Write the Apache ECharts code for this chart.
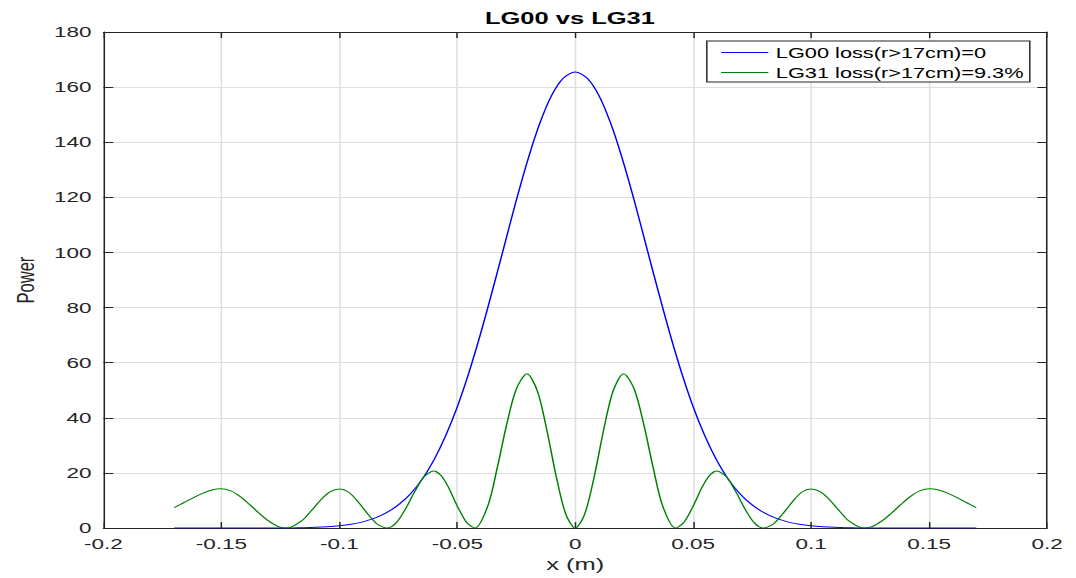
<!DOCTYPE html>
<html>
<head>
<meta charset="utf-8">
<script src="https://cdn.jsdelivr.net/npm/echarts@6/dist/echarts.min.js"></script>
<style>
html,body{margin:0;padding:0;background:#fff;overflow:hidden;}
#chart{width:717px;height:578px;transform:scaleX(1.50070);transform-origin:0 0;}
</style>
</head>
<body>
<div id="chart"></div>
<script>
// ---- data ----
var titleText = 'LG00 vs LG31';
var seriesNames = ['LG00 loss(r>17cm)=0', 'LG31 loss(r>17cm)=9.3%'];
var xTicks = [-0.2, -0.15, -0.1, -0.05, 0, 0.05, 0.1, 0.15, 0.2];
var yTicks = [0, 20, 40, 60, 80, 100, 120, 140, 160, 180];

var lg00X = [-0.17,-0.165,-0.16,-0.155,-0.15,-0.145,-0.14,-0.135,-0.13,-0.125,-0.12,-0.115,-0.11,-0.105,-0.1,-0.095,-0.09,-0.085,-0.08,-0.075,-0.07,-0.065,-0.06,-0.055,-0.05,-0.045,-0.04,-0.035,-0.03,-0.025,-0.02,-0.015,-0.01,-0.005,0,
  0.005,0.01,0.015,0.02,0.025,0.03,0.035,0.04,0.045,0.05,0.055,0.06,0.065,0.07,0.075,0.08,0.085,0.09,0.095,0.1,0.105,0.11,0.115,0.12,0.125,0.13,0.135,0.14,0.145,0.15,0.155,0.16,0.165,0.17];
var lg00Power = [0,0,0,0,0,0,0.005,0.01,0.02,0.04,0.08,0.15,0.27,0.48,0.83,1.39,2.27,3.6,5.6,8.4,12.3,17.6,24.6,33.4,44.0,56.6,70.9,86.5,102.7,118.9,133.9,146.9,157.0,163.3,165.5,
  163.3,157.0,146.9,133.9,118.9,102.7,86.5,70.9,56.6,44.0,33.4,24.6,17.6,12.3,8.4,5.6,3.6,2.27,1.39,0.83,0.48,0.27,0.15,0.08,0.04,0.02,0.01,0.005,0,0,0,0,0,0];

var lg31X = [-0.17,-0.166,-0.162,-0.158,-0.154,-0.1503,-0.146,-0.142,-0.138,-0.134,-0.13,-0.126,-0.1222,-0.116,-0.112,-0.108,-0.104,-0.1,-0.096,-0.092,-0.088,-0.084,-0.0797,-0.076,-0.072,-0.068,-0.064,-0.06,-0.057,-0.054,-0.05,-0.046,-0.0425,-0.037,-0.033,-0.029,-0.025,-0.0205,-0.016,-0.012,-0.008,-0.004,0,
  0.004,0.008,0.012,0.016,0.0205,0.025,0.029,0.033,0.037,0.0425,0.046,0.05,0.054,0.057,0.06,0.064,0.068,0.072,0.076,0.0797,0.084,0.088,0.092,0.096,0.1,0.104,0.108,0.112,0.116,0.1222,0.126,0.13,0.134,0.138,0.142,0.146,0.1503,0.154,0.158,0.162,0.166,0.17];
var lg31Power = [7.4,9.2,11.0,12.6,13.8,14.3,13.5,11.4,8.5,5.4,2.6,0.6,0,2.6,6.2,10.1,13.1,14.2,13.0,9.5,5.2,1.5,0,1.8,6.9,13.3,18.7,20.7,19.2,15.2,8.0,2.0,0,8.2,22.1,37.8,50.4,56.0,49.6,35.4,18.5,5.1,0,
  5.1,18.5,35.4,49.6,56.0,50.4,37.8,22.1,8.2,0,2.0,8.0,15.2,19.2,20.7,18.7,13.3,6.9,1.8,0,1.5,5.2,9.5,13.0,14.2,13.1,10.1,6.2,2.6,0,0.6,2.6,5.4,8.5,11.4,13.5,14.3,13.8,12.6,11.0,9.2,7.4];

// ---- chart ----
function pairs(xs, ys){ return xs.map(function(x,i){ return [x, ys[i]]; }); }
var axisCol = '#262626', gridCol = '#dedede';
var FONT = '"Liberation Sans", Arial, Helvetica, sans-serif';
var tickFmt = function(v){ return String(+(+v).toFixed(3)); };

var chart = echarts.init(document.getElementById('chart'), null, {renderer:'svg'});
chart.setOption({
  animation:false,
  backgroundColor:'#fff',
  textStyle:{fontFamily:FONT},
  title:{text:titleText, left:379.8, textAlign:'center', top:10, padding:0,
    textStyle:{fontFamily:FONT, fontWeight:'bold', fontSize:17, color:'#000'}},
  legend:{orient:'vertical', left:471, top:41, itemWidth:31.5, itemHeight:14, itemGap:5,
    padding:[4,4,2,9], borderColor:axisCol, borderWidth:1, backgroundColor:'#fff',
    itemStyle:{opacity:0}, lineStyle:{width:1},
    textStyle:{fontFamily:FONT, fontSize:14.5, color:'#000'}, data:seriesNames},
  grid:{left:62, right:19.3, top:32, bottom:47, containLabel:false},
  xAxis:[{type:'value', min:xTicks[0], max:xTicks[xTicks.length-1], interval:0.05, position:'bottom',
      name:'x (m)', nameLocation:'middle', nameGap:27,
      nameTextStyle:{fontFamily:FONT, fontSize:17, color:axisCol},
      axisLine:{show:true, onZero:false, lineStyle:{color:axisCol, width:1}},
      axisTick:{show:true, inside:true, length:6, lineStyle:{color:axisCol}},
      axisLabel:{margin:8, fontSize:15, color:axisCol, fontFamily:FONT, formatter:tickFmt},
      splitLine:{show:true, lineStyle:{color:gridCol, width:1}}},
    {type:'value', min:xTicks[0], max:xTicks[xTicks.length-1], interval:0.05, position:'top',
      axisLine:{show:true, onZero:false, lineStyle:{color:axisCol, width:1}},
      axisTick:{show:true, inside:true, length:6, lineStyle:{color:axisCol}},
      axisLabel:{show:false}, splitLine:{show:false}}],
  yAxis:[{type:'value', min:yTicks[0], max:yTicks[yTicks.length-1], interval:20, position:'left',
      name:'Power', nameLocation:'middle', nameGap:42, nameRotate:90,
      nameTextStyle:{fontFamily:FONT, fontSize:16.5, color:axisCol},
      axisLine:{show:true, onZero:false, lineStyle:{color:axisCol, width:1}},
      axisTick:{show:true, inside:true, length:6.5, lineStyle:{color:axisCol}},
      axisLabel:{margin:8, fontSize:15, color:axisCol, fontFamily:FONT},
      splitLine:{show:true, lineStyle:{color:gridCol, width:1}}},
    {type:'value', min:yTicks[0], max:yTicks[yTicks.length-1], interval:20, position:'right',
      axisLine:{show:true, onZero:false, lineStyle:{color:axisCol, width:1}},
      axisTick:{show:true, inside:true, length:6.5, lineStyle:{color:axisCol}},
      axisLabel:{show:false}, splitLine:{show:false}}],
  series:[
    {name:seriesNames[0], type:'line', xAxisIndex:0, yAxisIndex:0, data:pairs(lg00X, lg00Power),
      symbol:'none', smooth:0.3, color:'#0000ff', lineStyle:{color:'#0000ff', width:1}},
    {name:seriesNames[1], type:'line', xAxisIndex:0, yAxisIndex:0, data:pairs(lg31X, lg31Power),
      symbol:'none', smooth:0.3, color:'#008000', lineStyle:{color:'#008000', width:1}}
  ]
});
</script>
</body>
</html>
